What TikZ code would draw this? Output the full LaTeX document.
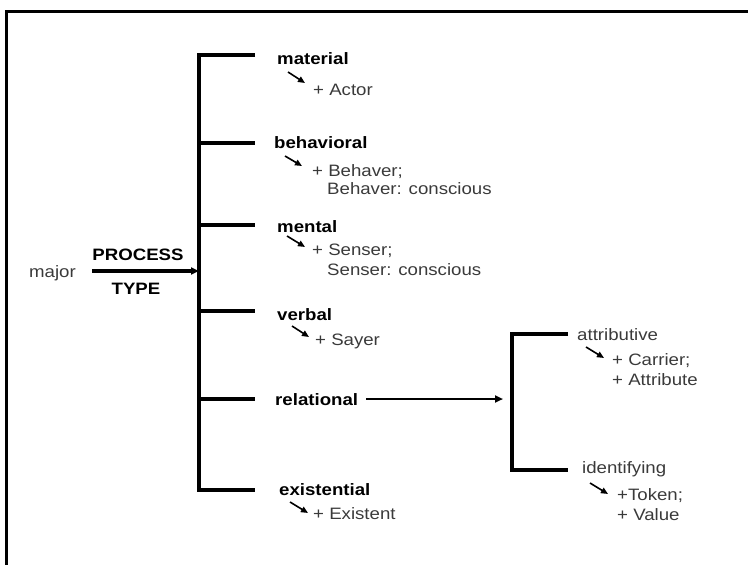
\documentclass[tikz,border=0pt]{standalone}
\usepackage{fontspec}
\setmainfont[FakeStretch=1.13]{Liberation Sans}
\usetikzlibrary{arrows.meta}
\definecolor{txt}{HTML}{3A3A3A}
\newcommand{\fsz}{\fontsize{16.5}{18.5}\selectfont}
\begin{document}
\begin{tikzpicture}[x=1pt,y=-1pt,
  hd/.style={anchor=base west,inner sep=0pt,font=\fsz\bfseries,text=black},
  sub/.style={anchor=base west,inner sep=0pt,font=\fsz,text=txt},
  brk/.style={line width=3.6pt,line join=miter},
  bigarrow/.style={line width=3.2pt,-{Triangle[length=8pt,width=7pt]}},
  smallarrow/.style={line width=1.6pt,-{Triangle[length=7pt,width=6pt]}},
  frame/.style={line width=3pt}]
\useasboundingbox (0,0) rectangle (748,565);
% frame
\coordinate (fbl) at (6,567);
\coordinate (ftl) at (6,11);
\coordinate (ftr) at (750,11);
\draw[frame] (fbl) -- (ftl) -- (ftr);

% left labels
\node[sub] (major) at (29,277) {major};
\node[hd, anchor=base] (process) at (138,260) {PROCESS};
\node[hd, anchor=base] (type) at (136,294) {TYPE};
\coordinate (astart) at (92,271);

% main bracket
\coordinate (b1) at (199,55);
\coordinate (b2) at (199,143);
\coordinate (b3) at (199,225);
\coordinate (b4) at (199,311);
\coordinate (b5) at (199,399);
\coordinate (b6) at (199,490);
\coordinate (bm) at (199,271);
\coordinate (t1) at (255,55);
\coordinate (t2) at (255,143);
\coordinate (t3) at (255,225);
\coordinate (t4) at (255,311);
\coordinate (t5) at (255,399);
\coordinate (t6) at (255,490);
\draw[brk] (t1) -- (b1) -- (b6) -- (t6);
\draw[brk] (b2) -- (t2);
\draw[brk] (b3) -- (t3);
\draw[brk] (b4) -- (t4);
\draw[brk] (b5) -- (t5);
\draw[bigarrow] (astart) -- (bm);

% process types
\node[hd] (material) at (277,64) {material};
\node[sub] (actor) at (313,95) {+ Actor};
\draw[smallarrow] (288,72) -- (305,83);

\node[hd] (behavioral) at (274,148) {behavioral};
\node[sub] (behaver) at (312,176) {+ Behaver;};
\node[sub] (behaver2) at (327,194) {Behaver: conscious};
\draw[smallarrow] (285,156) -- (302,166);

\node[hd] (mental) at (277,232) {mental};
\node[sub] (senser) at (312,255) {+ Senser;};
\node[sub] (senser2) at (327,275) {Senser: conscious};
\draw[smallarrow] (287,236) -- (305,247);

\node[hd] (verbal) at (277,320) {verbal};
\node[sub] (sayer) at (315,345) {+ Sayer};
\draw[smallarrow] (292,326) -- (309,337);

\node[hd] (relational) at (275,405) {relational};

\node[hd] (existential) at (279,495) {existential};
\node[sub] (existent) at (313,519) {+ Existent};
\draw[smallarrow] (290,502) -- (308,513);

% relational arrow
\coordinate (rm) at (503,399);
\draw[line width=2.8pt,-{Triangle[length=8pt,width=7pt]}] ([xshift=8pt]relational.east |- rm) -- (rm);

% second bracket
\coordinate (c1) at (512,334);
\coordinate (c2) at (512,470);
\coordinate (u1) at (568,334);
\coordinate (u2) at (568,470);
\draw[brk] (u1) -- (c1) -- (c2) -- (u2);

\node[sub] (attributive) at (577,340) {attributive};
\node[sub] (carrier) at (612,365) {+ Carrier;};
\node[sub] (attribute) at (612,385) {+ Attribute};
\draw[smallarrow] (586,347) -- (604,358);

\node[sub] (identifying) at (582,473) {identifying};
\node[sub] (token) at (617,500) {+Token;};
\node[sub] (value) at (617,520) {+ Value};
\draw[smallarrow] (590,483) -- (608,494);
\end{tikzpicture}
\end{document}
